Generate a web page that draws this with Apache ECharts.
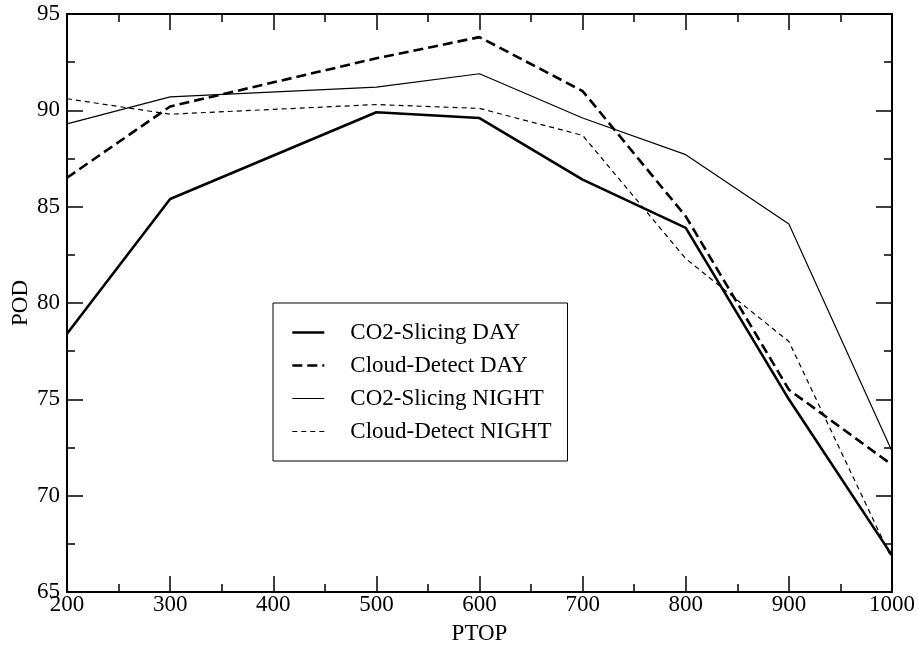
<!DOCTYPE html>
<html>
<head>
<meta charset="utf-8">
<script src="https://cdn.jsdelivr.net/npm/echarts@6/dist/echarts.min.js"></script>
<style>
html,body{margin:0;padding:0;background:#fff;}
#chart{width:918px;height:646px;}
</style>
</head>
<body>
<div id="chart"></div>
<script>
var ptop = [200, 300, 500, 600, 700, 800, 900, 1000];
var co2Day = [78.4, 85.4, 89.9, 89.6, 86.4, 83.9, 75.0, 66.9];
var cloudDay = [86.5, 90.2, 92.7, 93.8, 91.0, 84.5, 75.5, 71.6];
var co2Night = [89.3, 90.7, 91.2, 91.9, 89.6, 87.7, 84.1, 72.3];
var cloudNight = [90.6, 89.8, 90.3, 90.1, 88.7, 82.3, 78.0, 66.7];
var seriesNames = ['CO2-Slicing DAY', 'Cloud-Detect DAY', 'CO2-Slicing NIGHT', 'Cloud-Detect NIGHT'];

function pairs(xs, ys) { return xs.map(function (x, i) { return [x, ys[i]]; }); }

var FONT = "'Liberation Serif', 'Times New Roman', Times, serif";
var FS = 23;

function xAx(pos, labels) {
  return {
    type: 'value', position: pos, min: 200, max: 1000, interval: 100,
    name: labels ? 'PTOP' : '', nameLocation: 'middle', nameGap: 30,
    nameTextStyle: {fontFamily: FONT, fontSize: FS, color: '#000'},
    axisLine: {show: true, onZero: false, lineStyle: {color: '#000', width: 2}},
    axisTick: {show: true, inside: true, length: 16, lineStyle: {color: '#000', width: 1.5}},
    minorTick: {show: true, splitNumber: 2, length: 8, lineStyle: {color: '#000', width: 1.5}},
    axisLabel: {show: labels, margin: 1, fontFamily: FONT, fontSize: FS, color: '#000',
      formatter: function (v) { return String(v); }},
    splitLine: {show: false}, minorSplitLine: {show: false}
  };
}
function yAx(pos, labels) {
  return {
    type: 'value', position: pos, min: 65, max: 95, interval: 5,
    name: labels ? 'POD' : '', nameLocation: 'middle', nameGap: 35, nameRotate: 90,
    nameMoveOverlap: false,
    nameTextStyle: {fontFamily: FONT, fontSize: FS, color: '#000'},
    axisLine: {show: true, onZero: false, lineStyle: {color: '#000', width: 2}},
    axisTick: {show: true, inside: true, length: 16, lineStyle: {color: '#000', width: 1.5}},
    minorTick: {show: true, splitNumber: 2, length: 8, lineStyle: {color: '#000', width: 1.5}},
    axisLabel: {show: labels, margin: 7, fontFamily: FONT, fontSize: FS, color: '#000'},
    splitLine: {show: false}, minorSplitLine: {show: false}
  };
}

var styles = [
  {width: 2.6, type: 'solid'},
  {width: 2.6, type: [10, 5]},
  {width: 1.2, type: 'solid'},
  {width: 1.2, type: [5, 4]}
];
var datas = [co2Day, cloudDay, co2Night, cloudNight];

var chart = echarts.init(document.getElementById('chart'), null, {renderer: 'canvas'});
chart.setOption({
  animation: false,
  backgroundColor: '#fff',
  grid: {left: 67, right: 26, top: 14, bottom: 54, containLabel: false, outerBoundsMode: 'none'},
  xAxis: [xAx('bottom', true), xAx('top', false)],
  yAxis: [yAx('left', true), yAx('right', false)],
  legend: {
    show: true,
    orient: 'vertical', left: 273, top: 303,
    padding: [18, 16, 18, 18],
    borderColor: '#000', borderWidth: 1, backgroundColor: '#fff',
    itemWidth: 32, itemHeight: 14, itemGap: 10,
    selectedMode: false,
    itemStyle: {opacity: 0, borderWidth: 0},
    textStyle: {fontFamily: FONT, fontSize: FS, color: '#000', lineHeight: 23, padding: [0, 0, 0, 21]},
    data: seriesNames.map(function (n, i) {
      return {name: n, lineStyle: {width: styles[i].width, type: styles[i].type, color: '#000'}};
    })
  },
  series: seriesNames.map(function (n, i) {
    return {
      name: n, type: 'line', xAxisIndex: 0, yAxisIndex: 0,
      data: pairs(ptop, datas[i]),
      showSymbol: false, symbol: 'none',
      lineStyle: {color: '#000', width: styles[i].width, type: styles[i].type},
      itemStyle: {color: '#000'},
      z: 3
    };
  })
});
</script>
</body>
</html>
